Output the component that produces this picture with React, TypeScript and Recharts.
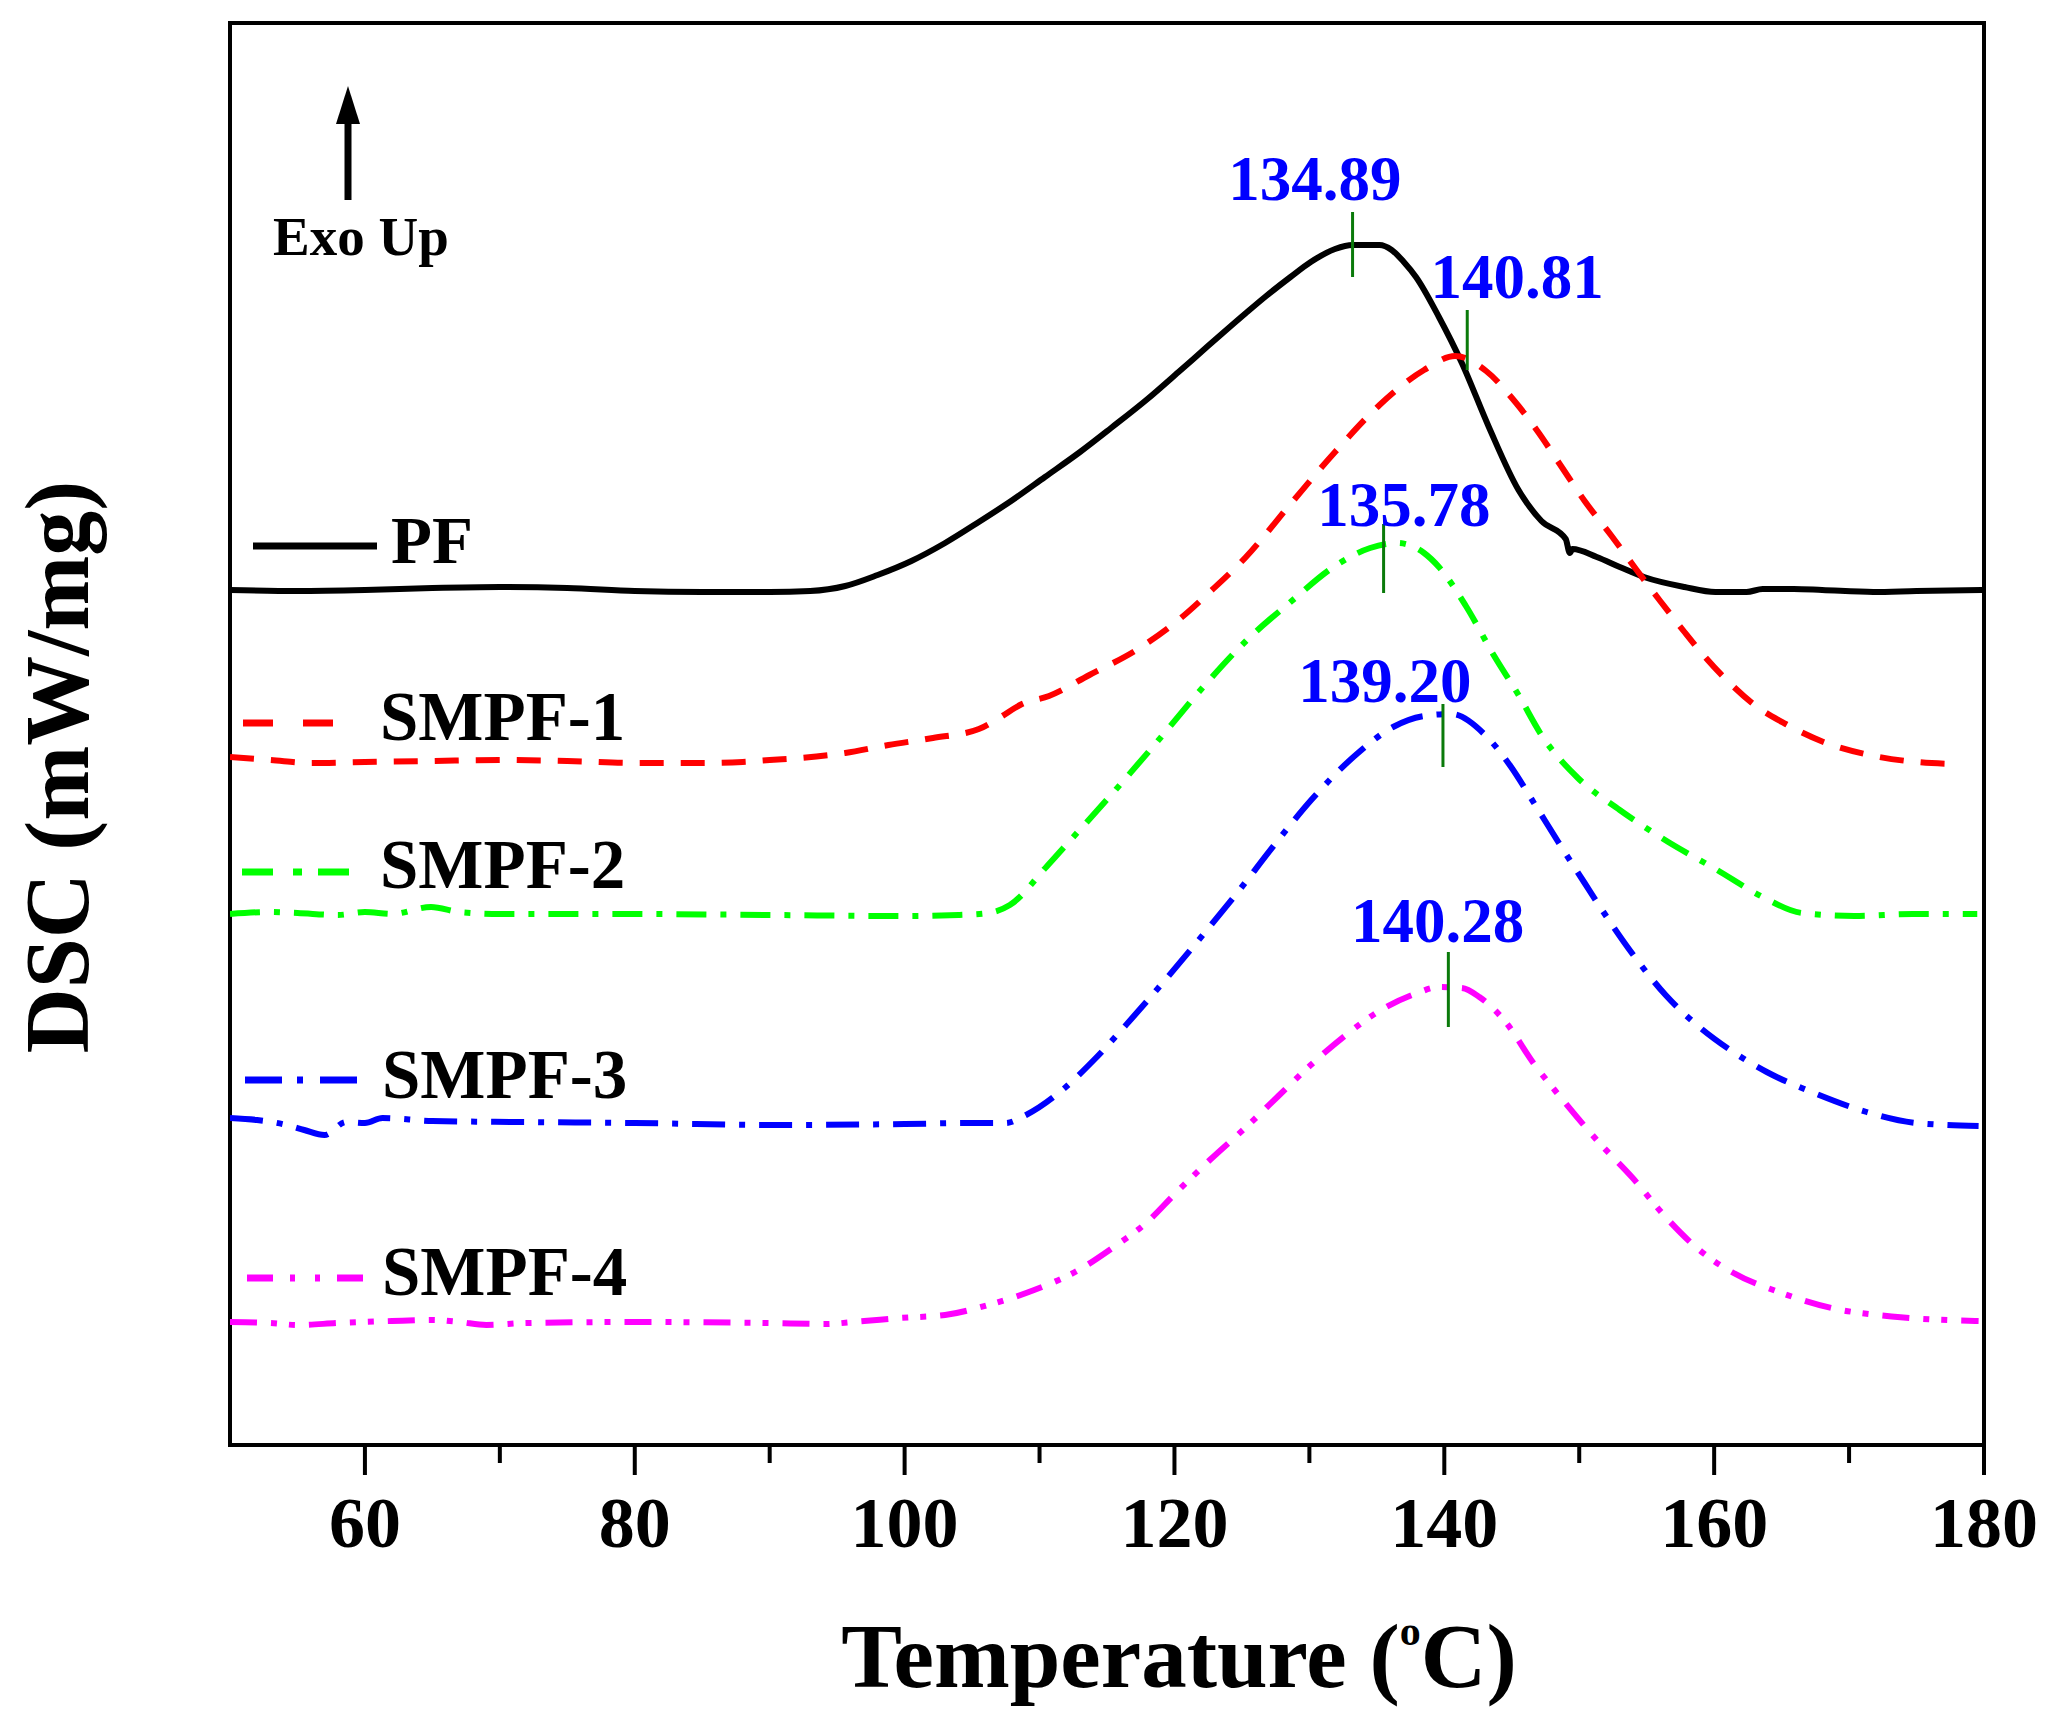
import React from 'react';
import { LineChart, Line, XAxis, YAxis, ReferenceArea, ReferenceLine, ReferenceDot } from 'recharts';

const W = 2046;
const H = 1732;
const SERIF = "'Liberation Serif', 'Times New Roman', serif";

// DSC traces. Temperature in °C, DSC in stacked arbitrary units (curves offset).
const pfTemp = [50, 55, 60, 65, 70, 75, 80, 85, 90, 93, 95.6, 98, 100.5, 103, 105.5, 108, 110.4, 113, 115.3, 118, 120.3, 121.9, 123.5, 125.3, 126.8, 128.6, 130.1, 131.9, 133.2, 135.2, 136.1, 137.0, 137.9, 139.6, 141.3, 143.3, 145.5, 147.2, 149.0, 149.3, 149.5, 151.3, 153, 154.8, 157.8, 160.1, 162.4, 163.6, 165.9, 168, 171.8, 175, 180];
const pfDsc = [85.5, 85.4, 85.5, 85.7, 85.8, 85.7, 85.4, 85.3, 85.3, 85.4, 85.9, 87.0, 88.4, 90.2, 92.3, 94.5, 96.8, 99.3, 101.7, 104.6, 107.3, 109.2, 111.1, 113.2, 114.9, 116.8, 118.3, 119.6, 120.0, 120.0, 119.5, 118.3, 116.8, 112.8, 108.2, 101.8, 95.5, 92.4, 90.6, 89.2, 89.6, 88.8, 87.8, 86.8, 85.8, 85.3, 85.3, 85.6, 85.6, 85.5, 85.3, 85.4, 85.5];

const smpf1Temp = [50, 53, 56, 60, 65, 70, 75, 80, 85, 88, 90, 92.2, 95.6, 98.8, 102.1, 105.5, 107, 108.7, 110.7, 113.7, 117.3, 120.3, 122.7, 125.3, 128.6, 131.9, 135.2, 138.5, 140.8, 143.1, 145.2, 146.9, 148.7, 150.4, 152.4, 154.2, 156.0, 157.8, 159.2, 161.0, 163.0, 165.3, 168.3, 171.5, 175.0, 178.0];
const smpf1Dsc = [68.8, 68.5, 68.2, 68.3, 68.4, 68.5, 68.4, 68.2, 68.2, 68.3, 68.5, 68.7, 69.2, 70.0, 70.7, 71.6, 72.7, 74.1, 74.9, 77.0, 79.6, 82.5, 85.4, 88.8, 94.1, 99.3, 104.0, 107.5, 108.9, 107.4, 104.4, 101.4, 97.8, 94.4, 90.9, 87.6, 84.4, 81.3, 79.0, 76.4, 74.0, 72.1, 70.2, 69.0, 68.3, 68.1];

const smpf2Temp = [50, 53, 55, 58, 60, 62, 64.9, 67, 70, 80, 90, 100, 104, 106.2, 107.8, 110.5, 112.1, 115.3, 118.7, 122.0, 125.3, 128.6, 131.9, 134.5, 136.5, 138.5, 139.6, 141.6, 143.7, 145.5, 147.2, 149.9, 153.0, 156.6, 160.1, 163.6, 166.5, 170.4, 174.7, 179.5];
const smpf2Dsc = [53.1, 53.3, 53.2, 53.0, 53.3, 53.1, 53.8, 53.3, 53.1, 53.1, 53.0, 52.9, 53.0, 53.2, 54.0, 57.8, 60.2, 65.0, 70.3, 75.6, 80.4, 84.3, 87.9, 89.7, 90.2, 89.2, 87.8, 83.9, 78.9, 75.0, 71.0, 66.7, 63.5, 60.3, 57.6, 54.8, 53.2, 52.9, 53.1, 53.1];

const smpf3Temp = [50, 52, 54.2, 55.5, 57.0, 58.6, 60, 61.3, 65, 71.6, 80, 91, 100, 105, 107.5, 109, 111.6, 114.1, 116.8, 119.5, 122.1, 124.7, 127.4, 130.2, 133.6, 136.2, 138.5, 140.5, 143.1, 144.9, 146.6, 148.4, 150.4, 151.5, 153.9, 156.4, 158.9, 161.3, 163.9, 167.6, 171.3, 175.0, 179.6];
const smpf3Dsc = [32.7, 32.5, 32.0, 31.5, 31.0, 32.3, 32.2, 32.7, 32.4, 32.3, 32.2, 32.0, 32.1, 32.2, 32.2, 33.0, 35.4, 38.6, 42.6, 46.8, 51.0, 55.3, 60.0, 64.6, 69.2, 71.8, 72.9, 73.1, 70.9, 67.9, 64.3, 60.4, 56.2, 53.9, 49.2, 45.0, 41.8, 39.4, 37.3, 35.1, 33.3, 32.2, 31.9];

const smpf4Temp = [50, 53, 55, 58, 62, 65, 67, 69, 72, 80, 90, 94, 97, 99.6, 103.0, 106.2, 109.6, 112.9, 115.5, 117.9, 120.1, 122.7, 125.4, 127.7, 130.1, 132.7, 135.3, 138.0, 139.6, 141.3, 142.6, 144.6, 146.6, 148.6, 151.5, 153.9, 156.4, 158.9, 161.3, 165.0, 168.7, 173.6, 179.6];
const smpf4Dsc = [12.3, 12.2, 12.0, 12.2, 12.4, 12.5, 12.3, 12.0, 12.2, 12.3, 12.2, 12.1, 12.4, 12.7, 13.0, 14.0, 15.5, 17.5, 19.8, 22.2, 25.2, 28.6, 31.9, 34.9, 38.0, 41.0, 43.5, 45.2, 45.8, 45.7, 44.8, 42.2, 38.2, 34.8, 30.2, 26.8, 22.8, 19.5, 17.3, 15.2, 13.7, 12.8, 12.4];

// peak annotations
const peakText = ['134.89', '140.81', '135.78', '139.20', '140.28'];
const peakMarkTemp = [133.2, 141.7, 135.5, 139.9, 140.3];
const peakMarkLow = [116.8, 107.5, 85.2, 67.8, 41.8];
const peakMarkHigh = [123.3, 113.5, 92.1, 74.1, 49.3];
const peakLabelTemp = [130.4, 145.4, 137.0, 135.6, 139.5];
const peakLabelDsc = [124.5, 114.7, 91.9, 74.3, 50.3];

const xTicks = [60, 70, 80, 90, 100, 110, 120, 130, 140, 150, 160, 170, 180];
const xDomain = [50, 180];
const yDomain = [0, 142.2];

const zip = (t: number[], v: number[]) => t.map((x, i) => ({ t: x, v: v[i] }));

const series = [
  { name: 'PF', data: zip(pfTemp, pfDsc), color: '#000000', dash: undefined, legendDash: undefined },
  { name: 'SMPF-1', data: zip(smpf1Temp, smpf1Dsc), color: '#ff0000', dash: '24 17', legendDash: '30 30' },
  { name: 'SMPF-2', data: zip(smpf2Temp, smpf2Dsc), color: '#00ff00', dash: '30 14 6 14', legendDash: '31 20 9 16' },
  { name: 'SMPF-3', data: zip(smpf3Temp, smpf3Dsc), color: '#0000ff', dash: '33 14 6 14', legendDash: '37 15 6 17' },
  { name: 'SMPF-4', data: zip(smpf4Temp, smpf4Dsc), color: '#ff00ff', dash: '27 14 6 12 6 14', legendDash: '26 17 5 20 5 17' },
];

// legend placement inside the frame (page px)
const legendRows = [
  { x1: 253, x2: 377, y: 546, tx: 391, ty: 563, size: 67 },
  { x1: 243, x2: 335, y: 723, tx: 380, ty: 740, size: 69 },
  { x1: 242, x2: 353, y: 872, tx: 380, ty: 888, size: 69 },
  { x1: 245, x2: 357, y: 1080, tx: 382, ty: 1098, size: 69 },
  { x1: 247, x2: 365, y: 1278, tx: 382, ty: 1295, size: 69 },
];

const XTick = (props: any) => {
  const { x, y, payload } = props;
  const major = payload.value % 20 === 0;
  return (
    <g>
      <line x1={x} x2={x} y1={y} y2={y + (major ? 30 : 18)} stroke="#000" strokeWidth={4} />
      {major && (
        <text x={x} y={y + 102} textAnchor="middle" fontFamily={SERIF} fontWeight="bold" fontSize={72} fill="#000">
          {payload.value}
        </text>
      )}
    </g>
  );
};

const XTitle = () => (
  <text x={1179} y={1687} textAnchor="middle" fontFamily={SERIF} fontWeight="bold" fontSize={91} fill="#000">
    <tspan>Temperature (</tspan>
    <tspan fontSize={42} dy={-42}>o</tspan>
    <tspan dy={42}>C)</tspan>
  </text>
);

export default function App() {
  return (
    <div style={{ position: 'absolute', left: 0, top: 0, width: W, height: H, background: '#fff' }}>
      <LineChart width={W} height={H} margin={{ top: 23, right: 62, bottom: 0, left: 230 }}>
        <XAxis
          type="number"
          dataKey="t"
          domain={xDomain}
          ticks={xTicks}
          interval={0}
          allowDataOverflow
          height={287}
          axisLine={false}
          tickLine={false}
          tickSize={0}
          tickMargin={0}
          tick={XTick}
          label={XTitle}
        />
        <YAxis type="number" domain={yDomain} width={0} allowDataOverflow axisLine={false} tickLine={false} tick={false} />
        <ReferenceArea x1={50} x2={180} y1={0} y2={142.2} fill="none" stroke="#000" strokeWidth={4} ifOverflow="visible" />
        {series.map((s) => (
          <Line
            key={s.name}
            data={s.data}
            dataKey="v"
            type="monotone"
            stroke={s.color}
            strokeWidth={6}
            strokeDasharray={s.dash}
            dot={false}
            activeDot={false}
            isAnimationActive={false}
          />
        ))}
        {peakMarkTemp.map((t, i) => (
          <ReferenceLine
            key={'m' + i}
            segment={[{ x: t, y: peakMarkLow[i] }, { x: t, y: peakMarkHigh[i] }]}
            stroke="#0a7a0a"
            strokeWidth={3}
          />
        ))}
        {peakText.map((txt, i) => (
          <ReferenceDot
            key={'l' + i}
            x={peakLabelTemp[i]}
            y={peakLabelDsc[i]}
            r={0}
            shape={(p: any) => (
              <text x={p.cx} y={p.cy} textAnchor="middle" fontFamily={SERIF} fontWeight="bold" fontSize={63} fill="#0000ff">
                {txt}
              </text>
            )}
          />
        ))}
      </LineChart>
      <svg width={W} height={H} style={{ position: 'absolute', left: 0, top: 0, pointerEvents: 'none' }}>
        <text transform="translate(88,767) rotate(-90)" textAnchor="middle" fontFamily={SERIF} fontWeight="bold" fontSize={90} fill="#000">
          DSC (mW/mg)
        </text>
        {series.map((s, i) => {
          const r = legendRows[i];
          return (
            <g key={s.name}>
              <line x1={r.x1} x2={r.x2} y1={r.y} y2={r.y} stroke={s.color} strokeWidth={7} strokeDasharray={s.legendDash} />
              <text x={r.tx} y={r.ty} fontFamily={SERIF} fontWeight="bold" fontSize={r.size} fill="#000">
                {s.name}
              </text>
            </g>
          );
        })}
        <line x1={348} x2={348} y1={200} y2={115} stroke="#000" strokeWidth={7} />
        <polygon points="348,86 336,124 360,124" fill="#000" />
        <text x={273} y={255} fontFamily={SERIF} fontWeight="bold" fontSize={55} fill="#000">
          Exo Up
        </text>
      </svg>
    </div>
  );
}
